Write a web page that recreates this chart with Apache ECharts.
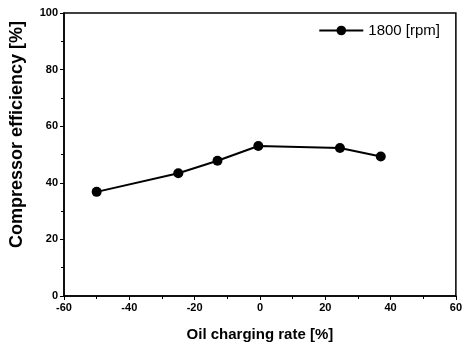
<!DOCTYPE html>
<html>
<head>
<meta charset="utf-8">
<script src="https://cdn.jsdelivr.net/npm/echarts@6/dist/echarts.min.js"></script>
<style>
  html, body { margin: 0; padding: 0; background: #fff; }
  #chart { width: 465px; height: 347px; }
</style>
</head>
<body>
<div id="chart"></div>
<script>
// oil charging rate [%] vs compressor efficiency [%]
const oilRate = [-50, -25, -13, -0.5, 24.5, 37];
const efficiency = [36.8, 43.4, 47.8, 53.0, 52.3, 49.3];
const seriesName = '1800 [rpm]';

const chart = echarts.init(document.getElementById('chart'));

const font = 'Liberation Sans, Arial, sans-serif';

chart.setOption({
  animation: false,
  grid: {
    left: 64, right: 9, top: 13, bottom: 48,
    show: true, borderColor: '#000', borderWidth: 1.5
  },
  legend: {
    data: [seriesName],
    right: 20, top: 18,
    itemWidth: 44, itemHeight: 12,
    itemGap: 4,
    textStyle: { fontFamily: font, fontSize: 15, color: '#000' }
  },
  xAxis: {
    type: 'value',
    min: -60, max: 60, interval: 20,
    name: 'Oil charging rate [%]',
    nameLocation: 'middle',
    nameGap: 31,
    nameTextStyle: { fontFamily: font, fontSize: 15, fontWeight: 'bold', color: '#000' },
    axisLine: { onZero: false, lineStyle: { color: '#000', width: 1.5 } },
    axisTick: { length: 4, lineStyle: { color: '#000' } },
    minorTick: { show: true, splitNumber: 2, length: 3, lineStyle: { color: '#000' } },
    axisLabel: { fontFamily: font, fontSize: 11, fontWeight: 'bold', color: '#000', margin: 6 },
    splitLine: { show: false }
  },
  yAxis: {
    type: 'value',
    min: 0, max: 100, interval: 20,
    name: 'Compressor efficiency [%]',
    nameLocation: 'middle',
    nameGap: 38,
    nameTextStyle: { fontFamily: font, fontSize: 18, fontWeight: 'bold', color: '#000', padding: [0, 0, 0, 40] },
    axisLine: { onZero: false, lineStyle: { color: '#000', width: 1.5 } },
    axisTick: { length: 4, lineStyle: { color: '#000' } },
    minorTick: { show: true, splitNumber: 2, length: 3, lineStyle: { color: '#000' } },
    axisLabel: { fontFamily: font, fontSize: 11, fontWeight: 'bold', color: '#000', margin: 6 },
    splitLine: { show: false }
  },
  series: [{
    name: seriesName,
    type: 'line',
    data: oilRate.map((x, i) => [x, efficiency[i]]),
    symbol: 'circle',
    symbolSize: 10,
    itemStyle: { color: '#000' },
    lineStyle: { color: '#000', width: 2 }
  }]
});
</script>
</body>
</html>
